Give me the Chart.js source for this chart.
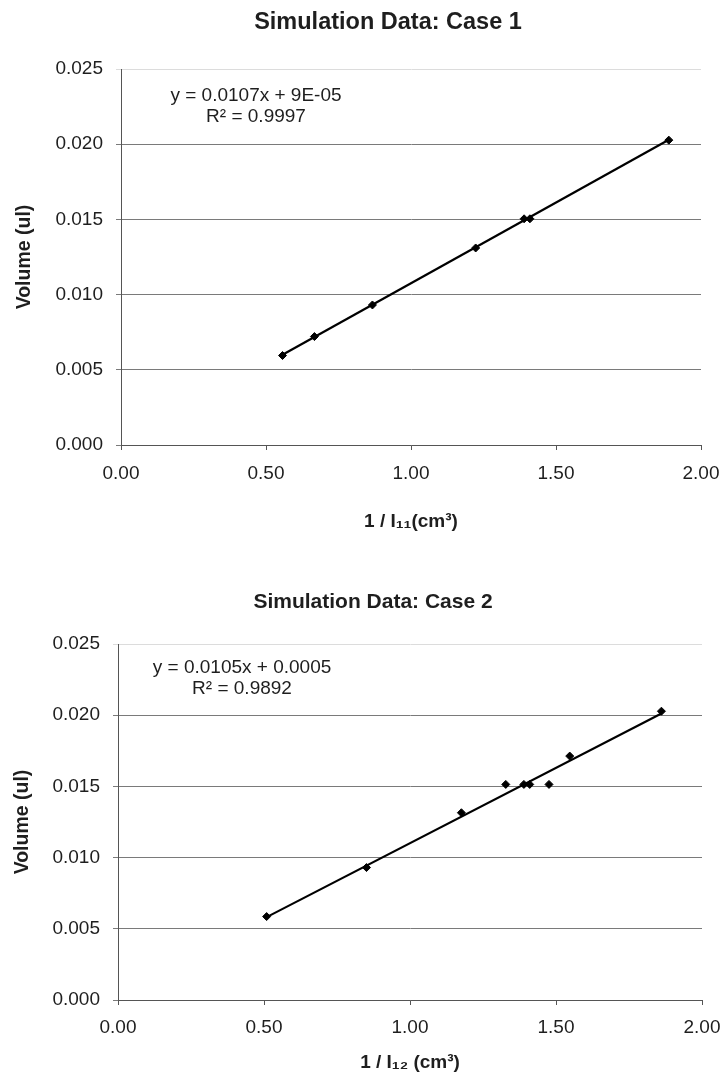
<!DOCTYPE html>
<html>
<head>
<meta charset="utf-8">
<script src="https://cdn.jsdelivr.net/npm/chart.js@4.4.1/dist/chart.umd.min.js"></script>
<style>
  html, body { margin: 0; padding: 0; background: #ffffff; }
  body { width: 721px; height: 1074px; position: relative; overflow: hidden; }
  .box { position: absolute; left: 0; width: 721px; }
  #b1 { top: 0; height: 540px; }
  #b2 { top: 540px; height: 534px; }
</style>
</head>
<body>
<div class="box" id="b1"><canvas id="c1" width="721" height="540"></canvas></div>
<div class="box" id="b2"><canvas id="c2" width="721" height="534"></canvas></div>
<script>
// ---- Data ----
const xTickLabels = ['0.00', '0.50', '1.00', '1.50', '2.00'];
const yTickLabels = ['0.000', '0.005', '0.010', '0.015', '0.020', '0.025'];

// Case 1
const case1X = [0.557, 0.667, 0.867, 1.223, 1.39, 1.41, 1.889];
const case1Y = [0.00595, 0.00721, 0.00931, 0.0131, 0.01504, 0.01504, 0.02027];
const trend1X = [0.557, 1.889];
const trend1Y = [0.00600, 0.02030];
const eq1 = ['y = 0.0107x + 9E-05', 'R\u00B2 = 0.9997'];

// Case 2
const case2X = [0.509, 0.851, 1.176, 1.328, 1.39, 1.41, 1.476, 1.547, 1.861];
const case2Y = [0.00586, 0.0093, 0.01315, 0.01514, 0.01514, 0.01514, 0.01514, 0.01713, 0.02028];
const trend2X = [0.509, 1.861];
const trend2Y = [0.00582, 0.02012];
const eq2 = ['y = 0.0105x + 0.0005', 'R\u00B2 = 0.9892'];

const FONT = '"Liberation Sans", Arial, Helvetica, sans-serif';
const TXT = '#1e1e1e';

function pts(xs, ys) { return xs.map((x, i) => ({ x: x, y: ys[i] })); }

// trendline equation label (two centred lines, anchored in data space)
const eqPlugin = {
  id: 'eqLabel',
  afterDatasetsDraw(chart, args, opts) {
    const ctx = chart.ctx;
    const xs = chart.scales.x, ys = chart.scales.y;
    ctx.save();
    ctx.font = '19px ' + FONT;
    ctx.fillStyle = TXT;
    ctx.textAlign = 'center';
    ctx.textBaseline = 'middle';
    const cx = xs.getPixelForValue(opts.xv);
    const cy = ys.getPixelForValue(opts.yv);
    opts.lines.forEach((t, i) => ctx.fillText(t, cx, cy + i * 21));
    ctx.restore();
  }
};

// move the chart title's horizontal centre
const titleShift = {
  id: 'titleShift',
  afterLayout(chart, args, opts) {
    const t = chart.titleBlock;
    if (t && opts.cx) {
      const w = t.right - t.left;
      t.left = opts.cx - w / 2;
      t.right = opts.cx + w / 2;
    }
  }
};

function makeChart(id, cfg) {
  return new Chart(document.getElementById(id), {
    type: 'scatter',
    data: {
      datasets: [
        {
          type: 'line',
          data: pts(cfg.tx, cfg.ty),
          borderColor: '#000000',
          borderWidth: 2.2,
          pointRadius: 0,
          fill: false,
          order: 2
        },
        {
          data: pts(cfg.px, cfg.py),
          pointStyle: 'rectRot',
          pointRadius: 4,
          pointHoverRadius: 4,
          backgroundColor: '#000000',
          borderColor: '#000000',
          borderWidth: 1,
          order: 1
        }
      ]
    },
    options: {
      responsive: false,
      animation: false,
      events: [],
      layout: { padding: { left: 0, right: cfg.padRight, top: 0, bottom: 0 } },
      plugins: {
        legend: { display: false },
        tooltip: { enabled: false },
        title: {
          display: true,
          text: cfg.title,
          color: TXT,
          font: { family: FONT, size: cfg.titleSize, weight: 'bold', lineHeight: 1.2 },
          padding: { top: cfg.titleTop, bottom: cfg.titleBottom }
        },
        titleShift: { cx: cfg.titleCx },
        eqLabel: { lines: cfg.eq, xv: cfg.eqX, yv: cfg.eqY }
      },
      scales: {
        x: {
          type: 'linear',
          min: 0, max: 2,
          afterFit(s) { s.height = cfg.xHeight; s.paddingLeft = 0; s.paddingRight = 0; },
          ticks: {
            stepSize: 0.5,
            color: TXT,
            font: { family: FONT, size: 19, lineHeight: 1.2 },
            padding: cfg.xTickPad,
            maxRotation: 0,
            callback: (v, i) => xTickLabels[i]
          },
          grid: { drawOnChartArea: false, drawTicks: true, tickLength: 5, color: '#555555' },
          border: { display: true, color: '#555555', width: 1 },
          title: {
            display: true,
            text: cfg.xTitle,
            color: TXT,
            font: { family: FONT, size: 19, weight: 'bold', lineHeight: 1.2 },
            padding: { top: 0, bottom: cfg.xTitlePad }
          }
        },
        y: {
          type: 'linear',
          min: 0, max: 0.025,
          afterFit(s) { s.width = cfg.yWidth; },
          ticks: {
            stepSize: 0.005,
            color: TXT,
            font: { family: FONT, size: 19, lineHeight: 1.2 },
            padding: cfg.yTickPad,
            callback: (v, i) => yTickLabels[i]
          },
          grid: {
            drawOnChartArea: true,
            drawTicks: true,
            tickLength: 5,
            color: (c) => (c.index === 5 ? '#dcdcdc' : '#7a7a7a'),
            lineWidth: 1
          },
          border: { display: true, color: '#555555', width: 1 },
          title: {
            display: true,
            text: 'Volume (ul)',
            color: TXT,
            font: { family: FONT, size: 19.5, weight: 'bold', lineHeight: 1.2 },
            padding: { top: cfg.yTitlePad, bottom: 0 }
          }
        }
      }
    },
    plugins: [eqPlugin, titleShift]
  });
}

makeChart('c1', {
  title: 'Simulation Data: Case 1',
  titleSize: 23.5, titleTop: 8, titleBottom: 32.8, titleCx: 388,
  px: case1X, py: case1Y, tx: trend1X, ty: trend1Y,
  xTitle: '1 / I\u2081\u2081(cm\u00B3)',
  yWidth: 121, yTickPad: 13, yTitlePad: 13,
  padRight: 20,
  xHeight: 95, xTickPad: 12.6, xTitlePad: 6.6,
  eq: eq1, eqX: 0.4655, eqY: 0.0232
});

makeChart('c2', {
  title: 'Simulation Data: Case 2',
  titleSize: 21, titleTop: 49.4, titleBottom: 29.4, titleCx: 373,
  px: case2X, py: case2Y, tx: trend2X, ty: trend2Y,
  xTitle: '1 / I\u2081\u2082 (cm\u00B3)',
  yWidth: 118, yTickPad: 13, yTitlePad: 11,
  padRight: 19,
  xHeight: 74, xTickPad: 11.6, xTitlePad: 0,
  eq: eq2, eqX: 0.4247, eqY: 0.02331
});
</script>
</body>
</html>
